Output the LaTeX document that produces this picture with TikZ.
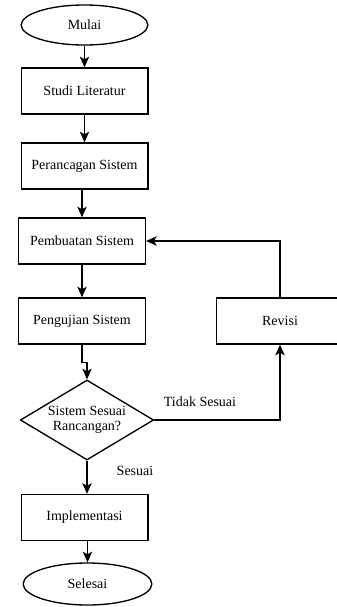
\documentclass[tikz,border=0pt]{standalone}
\usepackage{fontspec}
\setmainfont{Liberation Serif}
\usetikzlibrary{shapes.geometric, arrows.meta}

\begin{document}
\begin{tikzpicture}[x=0.75pt, y=-0.75pt, line width=1pt,
    font=\fontsize{10.5}{11.5}\selectfont,
    box/.style={draw, rectangle, minimum width=95pt, minimum height=34.5pt, inner sep=0pt},
    term/.style={draw, ellipse, minimum width=95pt, minimum height=30pt, inner sep=0pt},
    decision/.style={draw, diamond, aspect=1.67, minimum width=100pt, minimum height=60pt, inner sep=0pt, align=center},
    arr/.style={-{Stealth[length=8pt, width=7pt, inset=2pt]}}]

    \useasboundingbox (0,0) rectangle (336,607);

    \node[term] (mulai) at (84.5,25) {Mulai};
    \node[box] (studi) at (84.5,91) {Studi Literatur};
    \node[box] (peranc) at (84.5,166) {Perancagan Sistem};
    \node[box] (pemb) at (82,241) {Pembuatan Sistem};
    \node[box] (peng) at (82,321) {Pengujian Sistem};
    \node[box] (rev) at (280,321) {Revisi};
    \node[decision] (dec) at (87,420) {Sistem Sesuai\\Rancangan?};
    \node[box] (impl) at (84.5,517.5) {Implementasi};
    \node[term, minimum width=96.5pt, minimum height=31.5pt] (sel) at (87.5,584) {Selesai};

    \node (tidak) at (200,402) {Tidak Sesuai};
    \node (sesuai) at (135,471) {Sesuai};

    \draw[arr] (mulai) -- (studi);
    \draw[arr] (studi) -- (peranc);
    \draw[arr] (pemb.north |- peranc.south) -- (pemb.north);
    \draw[arr] (pemb) -- (peng);
    \draw[arr] (peng.south) -- ++(0,18) -| (dec.north);
    \draw[arr] (dec.south) -- (dec.south |- impl.north);
    \draw[arr] (sel.north |- impl.south) -- (sel.north);

    \draw[arr] (dec.east) -| (rev.south);
    \draw[arr] (rev.north) |- (pemb.east);

\end{tikzpicture}
\end{document}
